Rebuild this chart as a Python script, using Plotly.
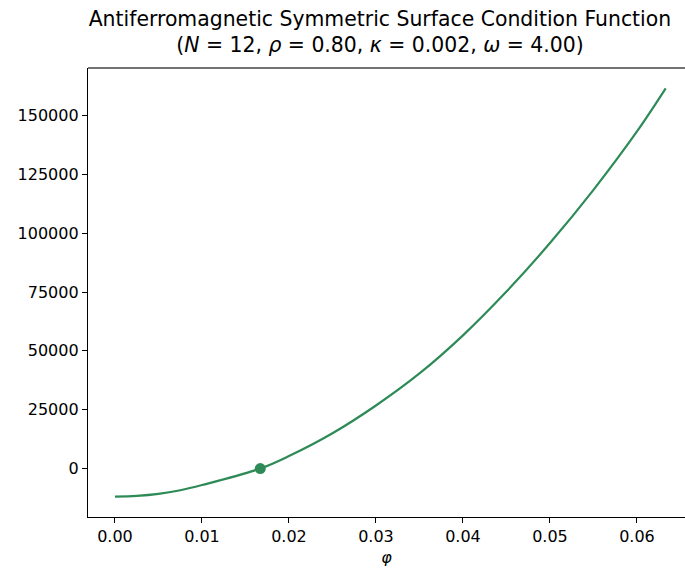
import plotly.graph_objects as go

# Data
phi = [0.0, 0.0025, 0.005, 0.0075, 0.01, 0.0167, 0.02, 0.025, 0.03, 0.035, 0.04, 0.045, 0.05, 0.055, 0.06, 0.0633]
f_values = [-11900, -11600, -10750, -9200, -7000, 0, 5300, 15000, 26800, 40400, 56600, 75200, 95800, 118400, 143200, 161500]
root_phi = [0.0167]
root_val = [0]
x_ticks = [0.0, 0.01, 0.02, 0.03, 0.04, 0.05, 0.06]
x_ticktext = ["0.00", "0.01", "0.02", "0.03", "0.04", "0.05", "0.06"]
y_ticks = [0, 25000, 50000, 75000, 100000, 125000, 150000]
y_ticktext = ["0", "25000", "50000", "75000", "100000", "125000", "150000"]

color = "#2e8b57"
font = "DejaVu Sans"

fig = go.Figure()
fig.add_trace(go.Scatter(x=phi, y=f_values, mode="lines",
                         line=dict(color=color, width=2.2, shape="spline", smoothing=1.0),
                         showlegend=False, hoverinfo="skip"))
fig.add_trace(go.Scatter(x=root_phi, y=root_val, mode="markers",
                         marker=dict(color=color, size=11),
                         showlegend=False))

fig.update_layout(
    width=685, height=569,
    margin=dict(l=88, r=0, t=68, b=52),
    paper_bgcolor="white", plot_bgcolor="white",
    font=dict(family=font, size=16, color="black"),
    title=dict(
        text="Antiferromagnetic Symmetric Surface Condition Function<br>"
             "(<i>N</i> = 12, <i>ρ</i> = 0.80, <i>κ</i> = 0.002, <i>ω</i> = 4.00)",
        x=0.489, xref="paper", xanchor="center",
        y=0.955, yref="container", yanchor="top",
        font=dict(family=font, size=20.4, color="black"),
    ),
    xaxis=dict(
        range=[-0.0031, 0.06552],
        tickvals=x_ticks, ticktext=x_ticktext,
        showgrid=False, zeroline=False,
        showline=True, linecolor="black", linewidth=1.3,
        ticks="outside", ticklen=5, tickwidth=1.2, tickcolor="black",
        tickfont=dict(family=font, size=16),
        title=dict(text="<i>φ</i>", standoff=6, font=dict(family=font, size=16)),
    ),
    yaxis=dict(
        range=[-20570, 170170],
        tickvals=y_ticks, ticktext=y_ticktext,
        showgrid=False, zeroline=False,
        showline=True, linecolor="black", linewidth=1.3,
        ticks="outside", ticklen=5, tickwidth=1.2, tickcolor="black",
        tickfont=dict(family=font, size=16),
    ),
    shapes=[dict(type="line", xref="paper", yref="paper", x0=0, x1=1, y0=1, y1=1,
                 line=dict(color="#444444", width=1.6))],
)

fig.write_html("out.html")
